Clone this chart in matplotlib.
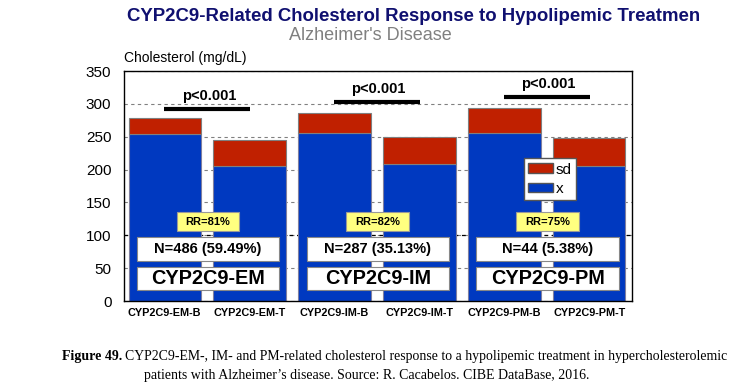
import matplotlib.pyplot as plt
from matplotlib.patches import Patch, Rectangle

plt.rcParams['font.family'] = ['Liberation Sans', 'DejaVu Sans']

categories = ['CYP2C9-EM-B', 'CYP2C9-EM-T', 'CYP2C9-IM-B',
              'CYP2C9-IM-T', 'CYP2C9-PM-B', 'CYP2C9-PM-T']
mean_x = [254, 205, 256, 208, 256, 206]
sd = [25, 40, 30, 42, 38, 42]

groups = ['CYP2C9-EM', 'CYP2C9-IM', 'CYP2C9-PM']
n_labels = ['N=486 (59.49%)', 'N=287 (35.13%)', 'N=44 (5.38%)']
rr_labels = ['RR=81%', 'RR=82%', 'RR=75%']
p_labels = ['p<0.001', 'p<0.001', 'p<0.001']
p_heights = [292, 303, 310]

blue = '#0039C0'
red = '#C02000'

fig = plt.figure(figsize=(7.33, 3.88), dpi=100)
ax = fig.add_axes([0.169, 0.224, 0.693, 0.593])

pos = list(range(len(categories)))
ax.bar(pos, mean_x, width=0.85, color=blue, edgecolor='#7f7f9f', linewidth=0.8, label='x', zorder=2)
ax.bar(pos, sd, bottom=mean_x, width=0.85, color=red, edgecolor='#7f7f7f', linewidth=0.8, label='sd', zorder=2)

ax.set_xlim(-0.48, 5.5)
ax.set_ylim(0, 350)
ax.set_yticks(range(0, 351, 50))
ax.yaxis.grid(True, linestyle=(0, (3, 3)), color='#808080', linewidth=0.8, zorder=0)
ax.axhline(100, linestyle=(0, (3, 3)), color='black', linewidth=0.9, zorder=1)
ax.set_axisbelow(True)
ax.tick_params(axis='y', length=0, labelsize=11, pad=9)
ax.tick_params(axis='x', length=0, pad=5)
ax.set_xticks(pos)
ax.set_xticklabels(categories, fontsize=7.8, fontweight='bold')
for s in ax.spines.values():
    s.set_linewidth(1.0)

for i in range(3):
    c = 2 * i + 0.51
    # RR box
    ax.add_patch(Rectangle((c - 0.37, 106.5), 0.74, 29.5, fc='#FFFF80', ec='#999999',
                           lw=0.8, zorder=4))
    ax.text(c, 121, rr_labels[i], ha='center', va='center', fontsize=8, fontweight='bold',
            zorder=5)
    # N box
    ax.add_patch(Rectangle((c - 0.84, 61), 1.68, 36.5, fc='white', ec='#888888',
                           lw=0.8, zorder=4))
    ax.text(c, 79, n_labels[i], ha='center', va='center', fontsize=10.5, fontweight='bold',
            zorder=5)
    # group box
    ax.add_patch(Rectangle((c - 0.84, 16.7), 1.68, 35, fc='white', ec='#888888',
                           lw=0.8, zorder=4))
    ax.text(c, 34, groups[i], ha='center', va='center', fontsize=14.3, fontweight='bold',
            zorder=5)
    # significance bar
    pc = 2 * i + 0.5
    ax.plot([pc - 0.51, pc + 0.51], [p_heights[i], p_heights[i]], color='black', linewidth=3,
            solid_capstyle='butt', zorder=4)
    ax.text(pc + 0.02, p_heights[i] + 20, p_labels[i], ha='center', va='center', fontsize=10.5,
            fontweight='bold', zorder=4)

handles = [Patch(facecolor=red, edgecolor='#555555', label='sd'),
           Patch(facecolor=blue, edgecolor='#555555', label='x')]
ax.legend(handles=handles, loc='upper left', bbox_to_anchor=(0.787, 0.622), fontsize=11,
          fancybox=False, framealpha=1, edgecolor='#555555', handlelength=1.6,
          handleheight=0.6, handletextpad=0.2, borderpad=0.3, labelspacing=0.35,
          borderaxespad=0)

ax.text(0.0, 1.025, 'Cholesterol (mg/dL)', transform=ax.transAxes, ha='left', va='bottom',
        fontsize=10)

fig.text(0.564, 0.958, 'CYP2C9-Related Cholesterol Response to Hypolipemic Treatmen',
         ha='center', va='center', fontsize=13.4, fontweight='bold', color='#101070')
fig.text(0.505, 0.909, "Alzheimer's Disease", ha='center', va='center', fontsize=13,
         color='#808080')

fig.text(0.085, 0.08, 'Figure 49.', ha='left', va='center', fontsize=10, fontweight='bold',
         family='Liberation Serif')
fig.text(0.171, 0.08, 'CYP2C9-EM-, IM- and PM-related cholesterol response to a hypolipemic '
         'treatment in hypercholesterolemic', ha='left', va='center', fontsize=9.95,
         family='Liberation Serif')
fig.text(0.5, 0.031, 'patients with Alzheimer\u2019s disease. Source: R. Cacabelos. CIBE DataBase, 2016.',
         ha='center', va='center', fontsize=10, family='Liberation Serif')

fig.savefig('out.png', dpi=100)
